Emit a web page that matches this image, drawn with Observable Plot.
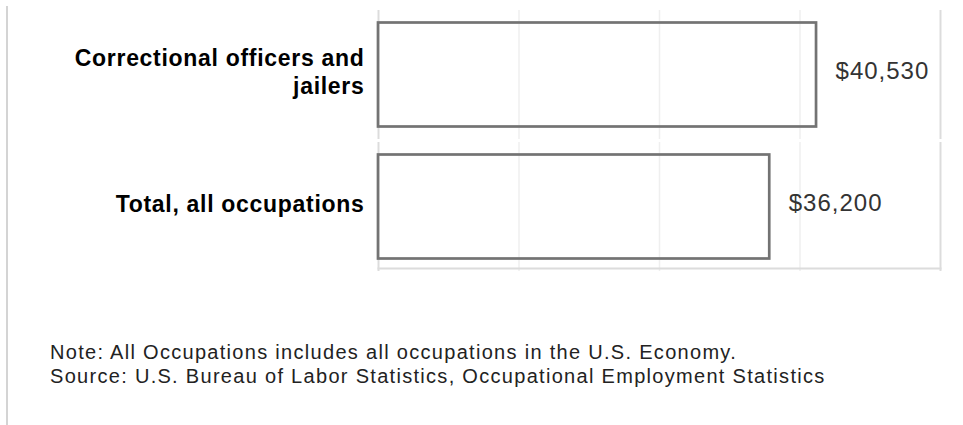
<!DOCTYPE html>
<html>
<head>
<meta charset="utf-8">
<script src="https://cdn.jsdelivr.net/npm/d3@7"></script>
<script src="https://cdn.jsdelivr.net/npm/@observablehq/plot@0.6"></script>
<style>
  html, body { margin: 0; padding: 0; background: #fff; }
  body { width: 963px; height: 425px; overflow: hidden; position: relative; font-family: "Liberation Sans", Arial, sans-serif; }
  #edge { position: absolute; left: 6px; top: 6px; width: 2px; bottom: 0; background: #d4d4d4; }
  #chart svg { display: block; }
  #note { margin-top: 65px; padding-left: 50px; font-size: 20px; line-height: 24px; color: #222; letter-spacing: 1.3px; }
</style>
</head>
<body>
<div id="edge"></div>
<div id="chart"></div>
<div id="note">Note: All Occupations includes all occupations in the U.S. Economy.<br>Source: U.S. Bureau of Labor Statistics, Occupational Employment Statistics</div>
<script>
const occupations = ["Correctional officers and jailers", "Total, all occupations"];
const occupationLabels = ["Correctional officers and\njailers", "Total, all occupations"];
const medianWages = [40530, 36200];
const gridTicks = [0, 13000, 26000, 39000, 52000];

const data = occupations.map((name, i) => ({name, label: occupationLabels[i], value: medianWages[i]}));
const grid = gridTicks.flatMap(t => occupations.map(name => ({t, name})));
const fmt = d3.format(",");
const isEdge = d => d.t === gridTicks[0] || d.t === gridTicks[gridTicks.length - 1];

const plot = Plot.plot({
  width: 963,
  height: 275,
  marginLeft: 378,
  marginRight: 23,
  marginTop: 10,
  marginBottom: 3,
  style: {fontFamily: "'Liberation Sans', Arial, sans-serif", background: "white"},
  x: {domain: [0, 52000], axis: null},
  y: {domain: occupations, axis: null, paddingInner: 0.0226, paddingOuter: 0},
  marks: [
    Plot.ruleX(grid.filter(d => !isEdge(d)), {x: "t", y1: "name", y2: "name", stroke: "#efefef", strokeWidth: 1.5}),
    Plot.ruleX(grid.filter(isEdge), {x: "t", y1: "name", y2: "name", stroke: "#dcdcdc", strokeWidth: 2}),
    Plot.frame({anchor: "bottom", insetBottom: 4, stroke: "#dcdcdc", strokeWidth: 2}),
    Plot.barX(data, {x: "value", y: "name", fill: "none", stroke: "#737373", strokeWidth: 2.7, insetTop: 12.5, insetBottom: 12.5}),
    Plot.text(data, {x: "value", y: "name", text: d => "$" + fmt(d.value), textAnchor: "start", dx: 19, dy: -4, fontSize: 24, fill: "#333"}),
    Plot.text(data, {y: "name", frameAnchor: "left", text: "label", textAnchor: "end", dx: -14, dy: -4, fontSize: 23, fontWeight: "bold", lineHeight: 1.2, fill: "#000"})
  ]
});
d3.select(plot).selectAll("text").each(function() {
  const t = this.textContent || "";
  this.style.letterSpacing = t.startsWith("$") ? "1px" : "0.7px";
});
document.getElementById("chart").appendChild(plot);
</script>
</body>
</html>
